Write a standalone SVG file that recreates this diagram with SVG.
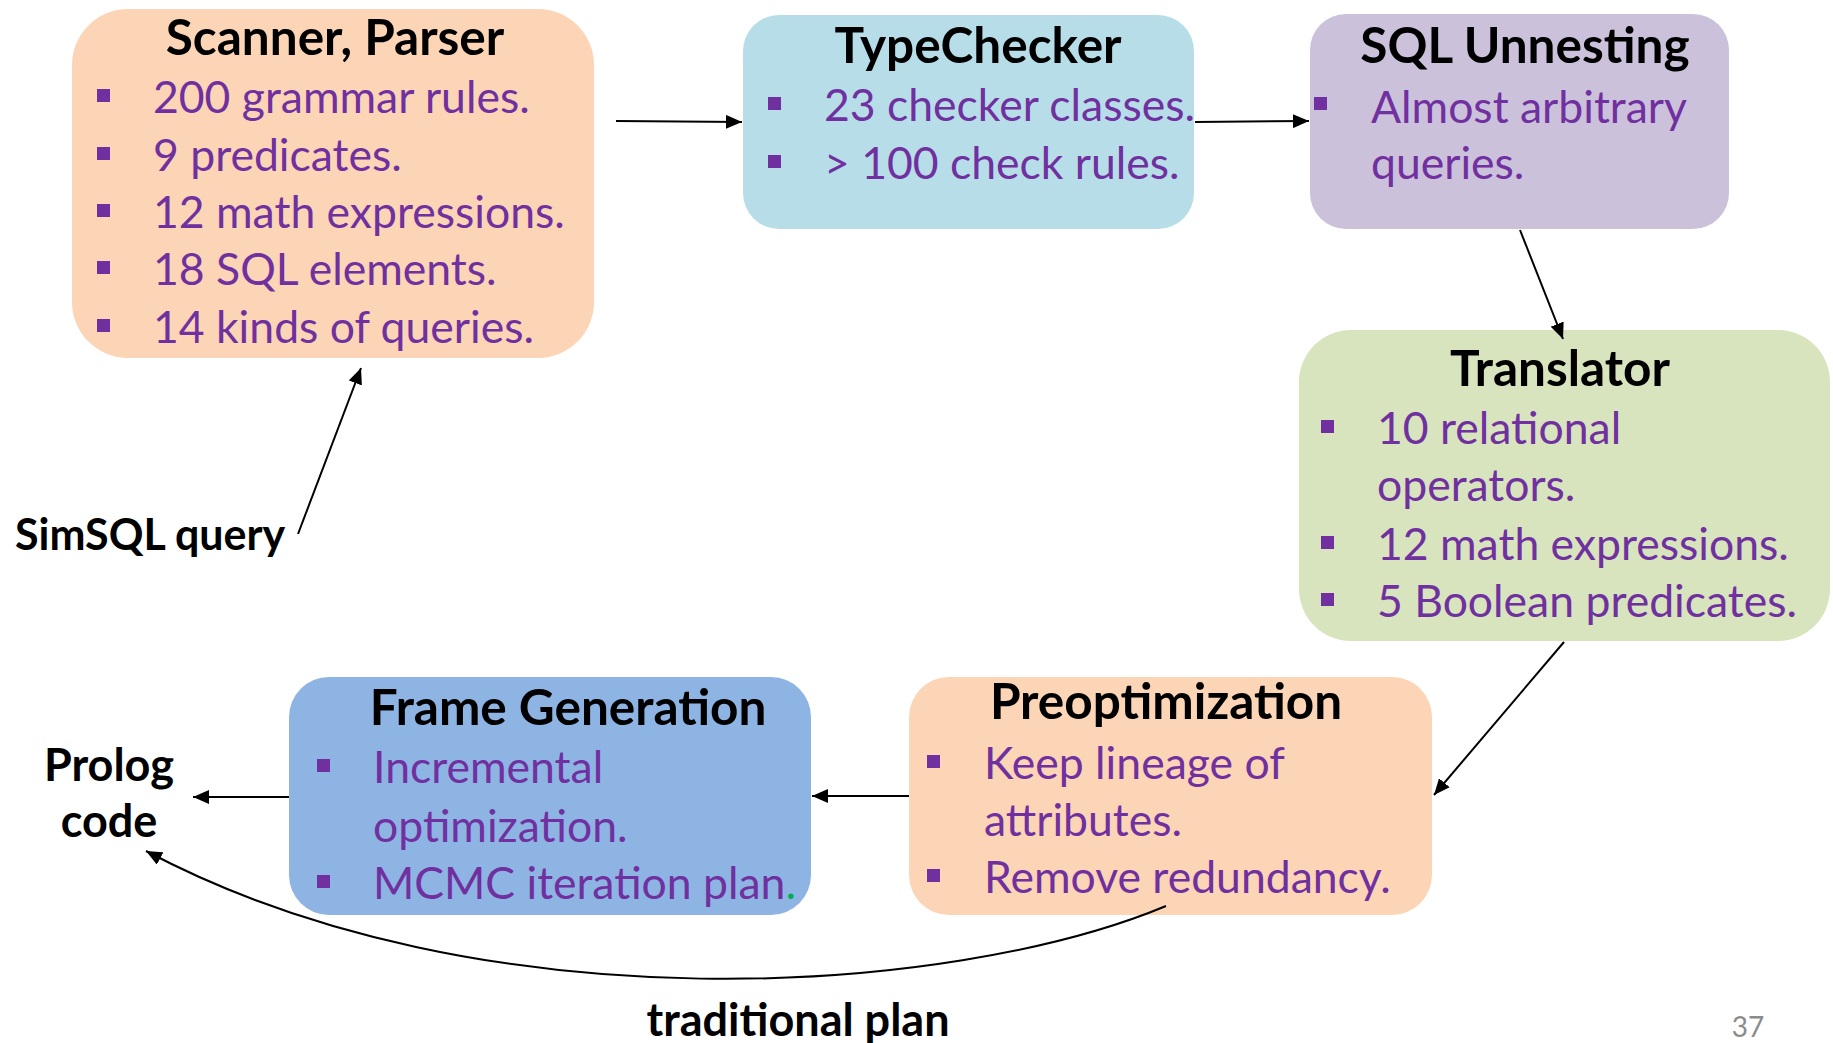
<svg xmlns="http://www.w3.org/2000/svg" width="1833" height="1043" viewBox="0 0 1833 1043">
  <style>
    .title { font-family: Lato, "Open Sans", sans-serif; font-weight: bold; font-size: 49.5px; fill: #000; text-anchor: middle; }
    .item { font-family: Lato, "Open Sans", sans-serif; font-size: 44.5px; fill: #7030A0; }
    .label { font-family: Lato, "Open Sans", sans-serif; font-weight: bold; font-size: 45px; fill: #000; }
    .label.small { font-size: 43px; }
    .bullet { fill: #7030A0; }
    .edge { fill: none; stroke: #000; stroke-width: 2; }
    .peach { fill: #FBD5B5; }
    .aqua { fill: #B7DEE8; }
    .lilac { fill: #CCC1DA; }
    .olive { fill: #D7E4BD; }
    .blue { fill: #8EB4E3; }
  </style>
  <defs>
    <marker id="arrow" markerUnits="userSpaceOnUse" markerWidth="18" markerHeight="14" refX="16" refY="7" orient="auto">
      <path d="M0,0 L16,7 L0,14 Z" fill="#000"/>
    </marker>
  </defs>

  <rect width="1833" height="1043" fill="#fff"/>

  <!-- Scanner, Parser -->
  <g id="scanner-parser">
    <rect class="peach" x="72" y="9" width="522" height="349" rx="56"/>
    <text class="title" x="335" y="55">Scanner, Parser</text>
    <rect class="bullet" x="97" y="89" width="13" height="13"/>
    <text class="item" x="153" y="113">200 grammar rules.</text>
    <rect class="bullet" x="97" y="147" width="13" height="13"/>
    <text class="item" x="153" y="171">9 predicates.</text>
    <rect class="bullet" x="97" y="204" width="13" height="13"/>
    <text class="item" x="153" y="228">12 math expressions.</text>
    <rect class="bullet" x="97" y="261" width="13" height="13"/>
    <text class="item" x="153" y="285">18 SQL elements.</text>
    <rect class="bullet" x="97" y="319" width="13" height="13"/>
    <text class="item" x="153" y="343">14 kinds of queries.</text>
  </g>

  <!-- TypeChecker -->
  <g id="typechecker">
    <rect class="aqua" x="743" y="15" width="451" height="214" rx="36"/>
    <text class="title" x="978" y="63">TypeChecker</text>
    <rect class="bullet" x="768" y="97" width="13" height="13"/>
    <text class="item" x="824" y="121">23 checker classes.</text>
    <rect class="bullet" x="768" y="155" width="13" height="13"/>
    <text class="item" x="824" y="179">&gt; 100 check rules.</text>
  </g>

  <!-- SQL Unnesting -->
  <g id="sql-unnesting">
    <rect class="lilac" x="1310" y="14" width="419" height="215" rx="36"/>
    <text class="title" x="1525" y="63">SQL Unnesting</text>
    <rect class="bullet" x="1314" y="97" width="13" height="13"/>
    <text class="item" x="1371" y="123">Almost arbitrary</text>
    <text class="item" x="1371" y="179">queries.</text>
  </g>

  <!-- Translator -->
  <g id="translator">
    <rect class="olive" x="1299" y="330" width="531" height="311" rx="52"/>
    <text class="title" x="1560" y="386">Translator</text>
    <rect class="bullet" x="1321" y="420" width="13" height="13"/>
    <text class="item" x="1377" y="444">10 relational</text>
    <text class="item" x="1377" y="501">operators.</text>
    <rect class="bullet" x="1321" y="536" width="13" height="13"/>
    <text class="item" x="1377" y="560">12 math expressions.</text>
    <rect class="bullet" x="1321" y="593" width="13" height="13"/>
    <text class="item" x="1377" y="617">5 Boolean predicates.</text>
  </g>

  <!-- Preoptimization -->
  <g id="preoptimization">
    <rect class="peach" x="909" y="677" width="523" height="238" rx="40"/>
    <text class="title" x="1166" y="719">Preoptimization</text>
    <rect class="bullet" x="927" y="755" width="13" height="13"/>
    <text class="item" x="984" y="779">Keep lineage of</text>
    <text class="item" x="984" y="836">attributes.</text>
    <rect class="bullet" x="927" y="869" width="13" height="13"/>
    <text class="item" x="984" y="893">Remove redundancy.</text>
  </g>

  <!-- Frame Generation -->
  <g id="frame-generation">
    <rect class="blue" x="289" y="677" width="522" height="238" rx="40"/>
    <text class="title" x="568" y="725">Frame Generation</text>
    <rect class="bullet" x="317" y="759" width="13" height="13"/>
    <text class="item" x="373" y="783">Incremental</text>
    <text class="item" x="373" y="842">optimization.</text>
    <rect class="bullet" x="317" y="875" width="13" height="13"/>
    <text class="item" x="373" y="899">MCMC iteration plan<tspan fill="#00B050">.</tspan></text>
  </g>

  <!-- Free-standing labels -->
  <g id="simsql-query">
    <text class="label small" x="15" y="550">SimSQL query</text>
  </g>
  <g id="prolog-code">
    <text class="label" x="109" y="781" text-anchor="middle">Prolog</text>
    <text class="label" x="109" y="837" text-anchor="middle">code</text>
  </g>
  <g id="traditional-plan">
    <text class="label" x="798" y="1036" text-anchor="middle">traditional plan</text>
  </g>
  <text x="1748" y="1037" font-family="Lato, 'Open Sans', sans-serif" font-size="28" fill="#8B8B8B" text-anchor="middle">37</text>

  <!-- Connectors -->
  <g id="connectors">
    <line class="edge" x1="616" y1="121" x2="742" y2="122" marker-end="url(#arrow)"/>
    <line class="edge" x1="1195" y1="122" x2="1309" y2="121" marker-end="url(#arrow)"/>
    <line class="edge" x1="1520" y1="230" x2="1563" y2="339" marker-end="url(#arrow)"/>
    <line class="edge" x1="1564" y1="642" x2="1434" y2="795" marker-end="url(#arrow)"/>
    <line class="edge" x1="909" y1="796" x2="812" y2="796" marker-end="url(#arrow)"/>
    <line class="edge" x1="289" y1="797" x2="193" y2="797" marker-end="url(#arrow)"/>
    <line class="edge" x1="298" y1="534" x2="361" y2="368" marker-end="url(#arrow)"/>
    <path class="edge" d="M1166,906 C950,996 480,1028 146,851" marker-end="url(#arrow)"/>
  </g>
</svg>
